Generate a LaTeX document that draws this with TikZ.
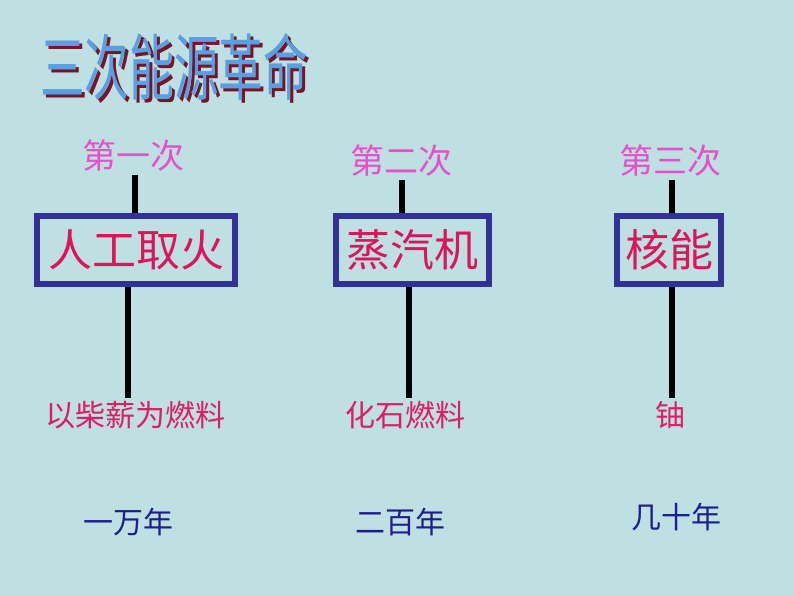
\documentclass[tikz,border=0pt]{standalone}
\usepackage{fontspec}
\newfontfamily\cjk{Noto Sans CJK SC}
\definecolor{bgcyan}{RGB}{190,224,226}
\definecolor{boxblue}{RGB}{50,50,150}
\definecolor{stepmag}{RGB}{230,80,200}
\definecolor{namered}{RGB}{220,20,90}
\definecolor{fuelred}{RGB}{220,30,100}
\definecolor{yearblue}{RGB}{30,30,140}
\definecolor{titleblue}{RGB}{90,160,225}
\definecolor{titleshadow}{RGB}{120,20,40}

\tikzset{
  erabox/.style={draw=boxblue,line width=6pt,inner sep=0pt,font=\cjk\fontsize{44}{44}\selectfont,text=namered},
  steplabel/.style={font=\cjk\fontsize{34}{34}\selectfont,text=stepmag},
  fuellabel/.style={font=\cjk\fontsize{30}{30}\selectfont,text=fuelred},
  yearlabel/.style={font=\cjk\fontsize{30}{30}\selectfont,text=yearblue},
  stem/.style={line width=6pt,black}
}

\begin{document}
\begin{tikzpicture}[x=1pt,y=-1pt]
  \fill[bgcyan] (0,0) rectangle (794,596);
  \useasboundingbox (0,0) rectangle (794,596);

  % title
  \node[font=\cjk\fontsize{72}{72}\selectfont,text=titleshadow,xscale=0.62] at (177,70) {三次能源革命};
  \node[font=\cjk\fontsize{72}{72}\selectfont,text=titleblue,xscale=0.62] (title) at (174,67) {三次能源革命};

  % first
  \node[steplabel] (step1) at (133,156) {第一次};
  \node[erabox,minimum width=198pt,minimum height=68pt] (box1) at (136,250) {人工取火};
  \node[fuellabel] (fuel1) at (135,415) {以柴薪为燃料};
  \node[yearlabel] (year1) at (128,522) {一万年};
  \draw[stem] ([xshift=2pt]step1.south) -- ([xshift=2pt]step1.south |- box1.north);
  \draw[stem] ([xshift=-8pt]box1.south) -- ([xshift=-8pt]box1.south |- fuel1.north);

  % second
  \node[steplabel] (step2) at (401,161) {第二次};
  \node[erabox,minimum width=153pt,minimum height=68pt] (box2) at (412,250) {蒸汽机};
  \node[fuellabel] (fuel2) at (405,415) {化石燃料};
  \node[yearlabel] (year2) at (400,522) {二百年};
  \draw[stem] ([xshift=1pt]step2.south) -- ([xshift=1pt]step2.south |- box2.north);
  \draw[stem] ([xshift=-3pt]box2.south) -- ([xshift=-3pt]box2.south |- fuel2.north);

  % third
  \node[steplabel] (step3) at (670,161) {第三次};
  \node[erabox,minimum width=104pt,minimum height=68pt] (box3) at (669,250) {核能};
  \node[fuellabel] (fuel3) at (670,415) {铀};
  \node[yearlabel] (year3) at (676,517) {几十年};
  \draw[stem] ([xshift=2pt]step3.south) -- ([xshift=2pt]step3.south |- box3.north);
  \draw[stem] ([xshift=3pt]box3.south) -- ([xshift=3pt]box3.south |- fuel3.north);
\end{tikzpicture}
\end{document}
